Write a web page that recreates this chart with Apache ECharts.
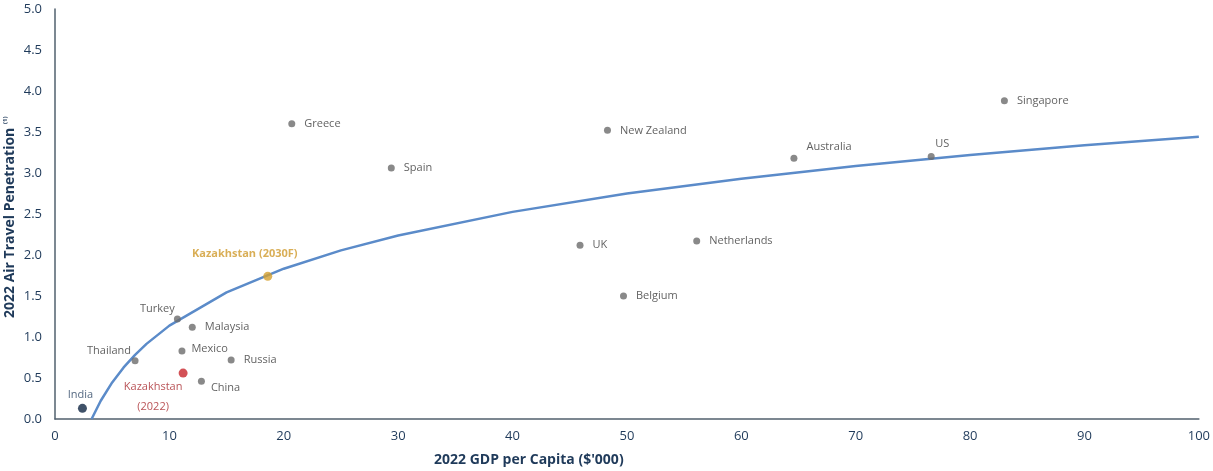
<!DOCTYPE html>
<html><head><meta charset="utf-8">
<script src="https://cdn.jsdelivr.net/npm/echarts@6/dist/echarts.min.js"></script>
<style>html,body{margin:0;padding:0;background:#fff}#c{width:1213px;height:471px}</style>
</head><body><div id="c"></div>
<script>
const countries = ['Greece','Spain','New Zealand','UK','Netherlands','Belgium','Australia','US','Singapore','Turkey','Malaysia','Thailand','Mexico','Russia','China'];
const gdp =        [20.7, 29.4, 48.3, 45.9, 56.1, 49.7, 64.6, 76.6, 83.0, 10.7, 12.0, 7.0, 11.1, 15.4, 12.8];
const penetration = [3.60, 3.06, 3.52, 2.12, 2.17, 1.50, 3.18, 3.20, 3.88, 1.22, 1.12, 0.71, 0.83, 0.72, 0.46];
const india = [2.4, 0.13];
const kaz2022 = [11.2, 0.56];
const kaz2030 = [18.6, 1.74];
const trendX = [3.2, 4, 5, 6, 7, 8, 10, 15, 20, 25, 30, 40, 50, 60, 70, 80, 90, 100];
const trendY = [0, 0.223, 0.446, 0.629, 0.783, 0.916, 1.139, 1.545, 1.833, 2.056, 2.238, 2.526, 2.749, 2.931, 3.085, 3.219, 3.337, 3.442];
const xTicks = [0,10,20,30,40,50,60,70,80,90,100];

const FONT = 'Open Sans';
const navy = '#1f3a5a';
const labelStyle = {
  'Mexico': {position:'right', offset:[0,-2]},
  'China': {position:'right', offset:[0,7]},
  'Australia': {position:'right', offset:[3,-11]},
  'US': {position:'top', offset:[11,2]},
  'Turkey': {position:'top', offset:[-20,5]},
  'Thailand': {position:'top', offset:[-26,5]}
};
const greyData = countries.map((n,i)=>{
  const ls = labelStyle[n] || {position:'right', offset:[3,0]};
  return {name:n, value:[gdp[i], penetration[i]], label:{show:true, formatter:n, position:ls.position, offset:ls.offset, distance:6}};
});

const chart = echarts.init(document.getElementById('c'), null, {renderer:'canvas'});
chart.setOption({
  animation:false,
  grid:{left:55, right:7, top:9, bottom:52, containLabel:false},
  xAxis:{type:'value', min:0, max:100, interval:10,
    axisLine:{show:true, lineStyle:{color:'#51606e', width:1.5}},
    axisTick:{show:false}, splitLine:{show:false},
    axisLabel:{color:navy, fontFamily:FONT, fontSize:13, margin:11,
      formatter:v=> xTicks.indexOf(v)>=0 ? String(v) : ''}},
  yAxis:{type:'value', min:0, max:5, interval:0.5,
    axisLine:{show:true, lineStyle:{color:'#51606e', width:1.5}},
    axisTick:{show:false}, splitLine:{show:false},
    axisLabel:{color:navy, fontFamily:FONT, fontSize:13, margin:13, formatter:v=>v.toFixed(1)}},
  graphic:[
    {type:'text', left:434, top:453, style:{text:"2022 GDP per Capita ($'000)", fill:navy, font:'bold 14px "Open Sans"'}},
    {type:'text', x:3, y:318, rotation:Math.PI/2, style:{text:'2022 Air Travel Penetration', fill:navy, font:'bold 14px "Open Sans"'}},
    {type:'text', x:2, y:124, rotation:Math.PI/2, style:{text:'(1)', fill:navy, font:'bold 6px "Open Sans"'}}
  ],
  series:[
    {type:'line', data:trendX.map((x,i)=>[x,trendY[i]]), showSymbol:false, smooth:false,
      lineStyle:{color:'#5b8bc9', width:2.5}, z:1, clip:true},
    {type:'scatter', data:greyData, symbolSize:7, itemStyle:{color:'#6b6b6b'}, z:3,
      label:{color:'#383838', fontFamily:FONT, fontSize:11}},
    {type:'scatter', data:[{name:'India', value:india}], symbolSize:9, itemStyle:{color:'#0f2542'}, z:3,
      label:{show:true, formatter:'India', position:'top', offset:[-2,2], color:navy, fontFamily:FONT, fontSize:11}},
    {type:'scatter', data:[{name:'Kazakhstan (2022)', value:kaz2022}], symbolSize:9, itemStyle:{color:'#c8262c'}, z:3,
      label:{show:true, formatter:'Kazakhstan\n(2022)', position:'bottom', offset:[-30,-6], lineHeight:20, color:'#a8282d', fontFamily:FONT, fontSize:11}},
    {type:'scatter', data:[{name:'Kazakhstan (2030F)', value:kaz2030}], symbolSize:9, itemStyle:{color:'#d4a030'}, z:3,
      label:{show:true, formatter:'Kazakhstan (2030F)', position:'top', offset:[-23,-7], color:'#d09a2c', fontWeight:'bold', fontFamily:FONT, fontSize:11}}
  ]
});
</script></body></html>
